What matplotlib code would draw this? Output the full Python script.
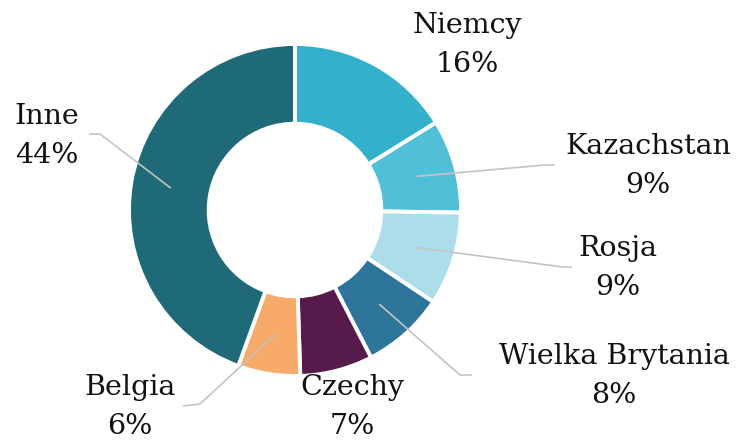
import numpy as np
import matplotlib.pyplot as plt

# kraje i udzialy (%)
countries = ['Niemcy', 'Kazachstan', 'Rosja', 'Wielka Brytania', 'Czechy', 'Belgia', 'Inne']
shares = [16, 9, 9, 8, 7, 6, 44]
colors = ['#32b0cc', '#50bfd8', '#abdeea', '#2e759b', '#561b4b', '#f8aa68', '#1f6a78']

W, H = 739, 443
cx, cy, R = 295, H - 210, 166

fig = plt.figure(figsize=(W / 100, H / 100), dpi=100)
ax = fig.add_axes([0, 0, 1, 1])

wedges, _ = ax.pie(shares, colors=colors, startangle=90, counterclock=False,
                   center=(cx, cy), radius=R, frame=True,
                   wedgeprops=dict(width=R * 0.48, edgecolor='white', linewidth=2.8))
ax.set_xlim(0, W)
ax.set_ylim(0, H)
ax.set_aspect('equal')
ax.axis('off')

# pozycje etykiet (px od gory) i punkty zalamania linii
label_pos = {
    'Niemcy': (467, 45),
    'Kazachstan': (648, 166),
    'Rosja': (618, 268),
    'Wielka Brytania': (614, 376),
    'Czechy': (352, 407),
    'Belgia': (130, 407),
    'Inne': (47, 136),
}
leaders = {
    'Kazachstan': [(545, 165), (555, 165)],
    'Rosja': [(563, 267), (572, 267)],
    'Wielka Brytania': [(460, 375), (472, 375)],
    'Belgia': [(200, 404), (183, 406)],
    'Inne': [(100, 134), (89, 134)],
}

for w, name, val in zip(wedges, countries, shares):
    x, y = label_pos[name]
    ax.text(x, H - y, f'{name}\n{val}%', ha='center', va='center',
            family='DejaVu Serif', fontsize=20.5, linespacing=1.55, color='#111111')
    if name in leaders:
        mid = np.deg2rad((w.theta1 + w.theta2) / 2)
        sx = cx + 0.76 * R * np.cos(mid)
        sy = cy + 0.76 * R * np.sin(mid)
        pts = [(sx, sy)] + [(px, H - py) for px, py in leaders[name]]
        xs, ys = zip(*pts)
        ax.plot(xs, ys, color='#c4c4c4', lw=1.2, solid_capstyle='butt')

fig.savefig('out.png', dpi=100)
